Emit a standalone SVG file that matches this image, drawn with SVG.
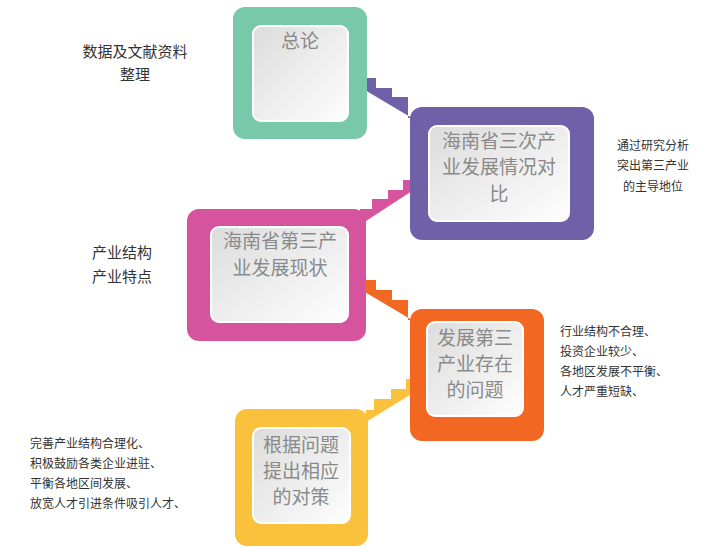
<svg xmlns="http://www.w3.org/2000/svg" width="728" height="548" viewBox="0 0 728 548">
<defs>
<linearGradient id="g" x1="0" y1="0" x2="1" y2="1"><stop offset="0" stop-color="#dcdcdc"/><stop offset="1" stop-color="#fefefe"/></linearGradient>
<style>
.in{fill:url(#g);stroke:#fff;stroke-width:2}
.t{font-family:"Liberation Sans","Noto Sans CJK SC",sans-serif;font-size:19px;fill:#8a8a8a;text-anchor:middle}
.s{font-family:"Liberation Sans","Noto Sans CJK SC",sans-serif;fill:#333}
</style>
</defs>
<g id="connectors">
<polygon fill="#7060A8" points="348,67 360,67 360,78 376,78 376,88 392,88 392,97 408,97 408,118 412,118 348,80"/>
<polygon fill="#D6549E" points="429,168 417,168 417,180 403,180 403,190 388,190 388,199 372,199 372,209 360,209 360,230 366,230 366,221 429,180"/>
<polygon fill="#F26722" points="348,270 360,270 360,280 376,280 376,290 392,290 392,300 408,300 408,320 412,320 348,282"/>
<polygon fill="#FAC23C" points="431,369 419,369 419,379 406,379 406,389 391,389 391,399 374,399 374,410 366,410 366,422 431,382"/>
</g>
<g id="n1"><rect x="233" y="7" width="134" height="132" rx="12" fill="#78C8AA"/><rect class="in" x="253" y="26" width="95" height="95" rx="8"/><text class="t" x="300" y="48">总论</text></g>
<g id="n2"><rect x="410" y="107" width="184" height="133" rx="12" fill="#7060A8"/><rect class="in" x="429" y="126" width="140" height="95" rx="8"/><text class="t" x="499" y="148">海南省三次产</text><text class="t" x="499" y="174">业发展情况对</text><text class="t" x="499" y="201">比</text></g>
<g id="n3"><rect x="187" y="209" width="179" height="132" rx="12" fill="#D6549E"/><rect class="in" x="211" y="227" width="137" height="95" rx="8"/><text class="t" x="280" y="248">海南省第三产</text><text class="t" x="280" y="275">业发展现状</text></g>
<g id="n4"><rect x="410" y="309" width="134" height="132" rx="12" fill="#F26722"/><rect class="in" x="427" y="322" width="96" height="94" rx="8"/><text class="t" x="475" y="345">发展第三</text><text class="t" x="475" y="371">产业存在</text><text class="t" x="475" y="397">的问题</text></g>
<g id="n5"><rect x="235" y="409" width="133" height="137" rx="12" fill="#FAC23C"/><rect class="in" x="253" y="428" width="97" height="95" rx="8"/><text class="t" x="301" y="452">根据问题</text><text class="t" x="301" y="478">提出相应</text><text class="t" x="301" y="504">的对策</text></g>
<g id="labels">
<text class="s" font-size="15" text-anchor="middle" x="135" y="57">数据及文献资料</text><text class="s" font-size="15" text-anchor="middle" x="135" y="80">整理</text>
<text class="s" font-size="12" text-anchor="middle" x="653" y="150">通过研究分析</text><text class="s" font-size="12" text-anchor="middle" x="653" y="170">突出第三产业</text><text class="s" font-size="12" text-anchor="middle" x="653" y="191">的主导地位</text>
<text class="s" font-size="15" text-anchor="middle" x="122" y="258">产业结构</text><text class="s" font-size="15" text-anchor="middle" x="122" y="282">产业特点</text>
<text class="s" font-size="12" x="560" y="336">行业结构不合理、</text><text class="s" font-size="12" x="560" y="356">投资企业较少、</text><text class="s" font-size="12" x="560" y="376">各地区发展不平衡、</text><text class="s" font-size="12" x="560" y="396">人才严重短缺、</text>
<text class="s" font-size="12" x="30" y="448">完善产业结构合理化、</text><text class="s" font-size="12" x="30" y="468">积极鼓励各类企业进驻、</text><text class="s" font-size="12" x="30" y="488">平衡各地区间发展、</text><text class="s" font-size="12" x="30" y="508">放宽人才引进条件吸引人才、</text>
</g>
</svg>
